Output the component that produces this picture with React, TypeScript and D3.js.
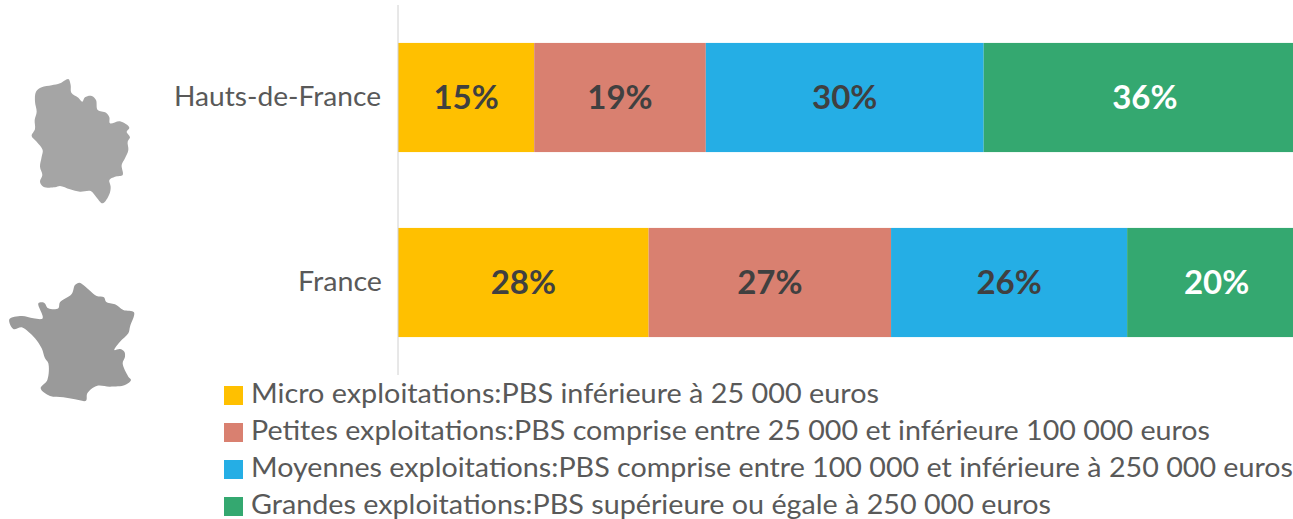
import React from "react";
import * as d3 from "d3";

const categories = ["Hauts-de-France", "France"];
const seriesNames = [
  "Micro exploitations:PBS inférieure à 25 000 euros",
  "Petites exploitations:PBS comprise entre 25 000 et inférieure 100 000 euros",
  "Moyennes exploitations:PBS comprise entre 100 000 et inférieure à 250 000 euros",
  "Grandes exploitations:PBS supérieure ou égale à 250 000 euros",
];
const micro = [15, 27.6];
const petites = [18.9, 26.7];
const moyennes = [30.6, 26];
const grandes = [35.5, 19.7];
const microLabels = ["15%", "28%"];
const petitesLabels = ["19%", "27%"];
const moyennesLabels = ["30%", "26%"];
const grandesLabels = ["36%", "20%"];
const colors = ["#FFC000", "#D98070", "#25AEE5", "#34A870"];
const labelColors = ["#404040", "#404040", "#404040", "#FFFFFF"];
const legendWidths = [628, 959, 1042, 800];
const categoryWidths = [207, 84];

// Decorative silhouettes (in 3x crop space)
const hautsOutline: [number, number][] = [[108,95],[125,82],[155,76],[180,70],[205,57],[212,75],[214,98],[235,113],[247,125],[255,112],[275,108],[288,120],[293,150],[318,158],[328,172],[330,190],[360,184],[388,203],[380,215],[390,232],[383,245],[385,270],[375,295],[365,315],[368,345],[345,350],[328,360],[332,380],[328,403],[308,430],[288,410],[272,393],[240,395],[210,388],[180,378],[165,382],[130,380],[120,365],[127,345],[120,320],[125,290],[128,270],[110,245],[95,228],[105,207],[104,180],[110,155],[105,125]];
const franceOutline: [number, number][] = [[238,38],[250,45],[270,62],[290,78],[312,82],[318,95],[345,103],[370,120],[402,127],[390,170],[385,190],[360,215],[343,240],[360,237],[373,245],[375,260],[368,280],[385,320],[393,330],[375,345],[330,350],[290,348],[262,370],[258,392],[225,388],[190,382],[150,378],[122,355],[142,330],[145,280],[135,265],[125,235],[105,205],[85,185],[65,172],[40,177],[28,148],[65,138],[100,145],[128,145],[115,100],[132,98],[145,115],[175,115],[180,97],[215,72],[225,45]];

const FONT = "Lato, 'Open Sans', sans-serif";
const series = [micro, petites, moyennes, grandes];
const seriesLabels = [microLabels, petitesLabels, moyennesLabels, grandesLabels];

export default function App() {
  const x = d3.scaleLinear().domain([0, 100]).range([398, 1306]);
  const y = d3.scaleBand().domain(categories).range([5, 375]).paddingInner(0.41).paddingOuter(0.205);
  const outline = (offX: number, offY: number) =>
    d3.line<[number, number]>().x((p) => p[0] / 3 + offX).y((p) => p[1] / 3 + offY).curve(d3.curveCatmullRomClosed);
  const legendY = d3.scalePoint().domain(seriesNames).range([393, 504]);

  const rows = categories.map((c, i) => {
    let acc = 0;
    return series.map((s, k) => {
      const start = acc;
      acc += s[i];
      return { c, k, start, end: acc, label: seriesLabels[k][i] };
    });
  });

  return (
    <svg width={1293} height={519} style={{ position: "absolute", left: 0, top: 0, display: "block", background: "#fff" }} fontFamily={FONT}>
      <path d={outline(0, 60)(hautsOutline) ?? ""} fill="#A5A5A5" />
      <path d={outline(0, 270)(franceOutline) ?? ""} fill="#9A9A9A" />
      {rows.map((row) =>
        row.map((d) => (
          <g key={d.c + d.k}>
            <rect x={x(d.start)} y={y(d.c)} width={x(d.end) - x(d.start)} height={y.bandwidth()} fill={colors[d.k]} />
            <text
              x={(x(d.start) + x(d.end)) / 2}
              y={(y(d.c) ?? 0) + y.bandwidth() / 2 + 11}
              textAnchor="middle"
              fontSize={33}
              fontWeight={700}
              fill={labelColors[d.k]}
            >
              {d.label}
            </text>
          </g>
        ))
      )}
      <line x1={398} x2={398} y1={5} y2={375} stroke="#D0D0D0" strokeWidth={1} />
      {categories.map((c, i) => (
        <text key={c} x={174} dx={i === 0 ? 0 : 124} y={(y(c) ?? 0) + y.bandwidth() / 2 + 8} fontSize={27} fill="#595959" textLength={categoryWidths[i]} lengthAdjust="spacingAndGlyphs">
          {c}
        </text>
      ))}
      {seriesNames.map((n, k) => (
        <g key={n}>
          <rect x={224} y={(legendY(n) ?? 0) - 7} width={19} height={19} fill={colors[k]} />
          <text x={251} y={(legendY(n) ?? 0) + 10} fontSize={27} fill="#595959" textLength={legendWidths[k]} lengthAdjust="spacingAndGlyphs">
            {n}
          </text>
        </g>
      ))}
    </svg>
  );
}
